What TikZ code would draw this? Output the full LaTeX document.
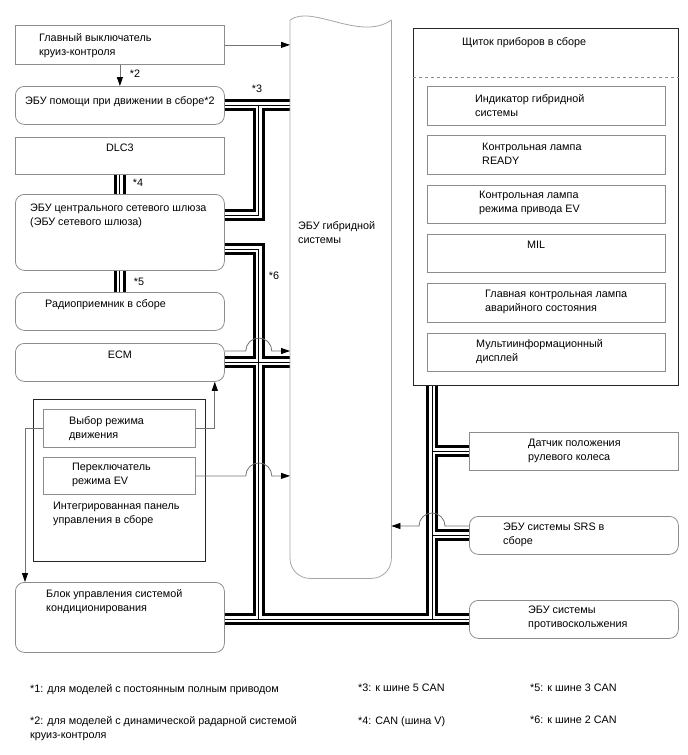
\documentclass[tikz,border=0pt]{standalone}
\usepackage{fontspec}
\setmainfont{Liberation Sans}
\usetikzlibrary{calc,arrows.meta,positioning}

\begin{document}
\begin{tikzpicture}[
    x=1pt, y=-1pt,
    font=\fontsize{10.8}{14}\selectfont,
    box/.style={draw=black!45, line width=0.8pt, anchor=north west, inner sep=0pt, minimum width=209pt, minimum height=#1},
    box/.default=38pt,
    rbox/.style={box=#1, rounded corners=9pt},
    rbox/.default=38pt,
    frame/.style={draw=black!85, line width=1.1pt, anchor=north west, inner sep=0pt},
    lamp/.style={draw=black!45, line width=0.8pt, inner sep=0pt, minimum width=238pt, minimum height=38.5pt},
    txt/.style={inner sep=0pt, anchor=north west, align=left},
    link/.style={draw=black!55, line width=0.8pt},
    >={Triangle[length=9pt, width=6pt, color=black]}
]
\useasboundingbox (0,0) rectangle (688,755);

\node[box=39pt] (cruise) at (15,25) {};
\node[rbox] (assist) at (15,86) {};
\node[box=37pt] (dlc) at (15,137) {};
\node[rbox=76pt] (gateway) at (15,194) {};
\node[rbox] (radio) at (15,292) {};
\node[rbox] (ecm) at (15,343) {};
\node[frame, minimum width=172pt, minimum height=162pt] (panel) at (33,399) {};
\node[box, minimum width=152pt] (drive) at (43,409) {};
\node[box=37pt, minimum width=152pt] (evsw) at (43,457) {};
\node[rbox=70pt] (ac) at (15,582) {};
\node[minimum width=101pt, minimum height=558pt, inner sep=0pt, anchor=north west] (hybrid) at (290,20) {};
\node[frame, minimum width=265pt, minimum height=357pt] (cluster) at (413,28) {};
\node[lamp, anchor=north west] (hyind) at (427,86) {};
\node[lamp, below=10pt of hyind] (ready) {};
\node[lamp, below=10pt of ready] (evlamp) {};
\node[lamp, below=10pt of evlamp] (mil) {};
\node[lamp, below=10pt of mil] (master) {};
\node[lamp, below=10pt of master] (mid) {};
\node[box] (steer) at (469,432) {};
\node[rbox] (srs) at (469,516) {};
\node[rbox] (abs) at (469,600) {};

\node[txt, below right=8pt and 24pt of cruise.north west] (cruise-t) {Главный выключатель\\круиз-контроля};
\node[txt, below right=10pt and 10pt of assist.north west] (assist-t) {ЭБУ помощи при движении в сборе*2};
\node[txt, below=7pt of dlc.north] (dlc-t) {DLC3};
\node[txt, below right=10pt and 15pt of gateway.north west] (gateway-t) {ЭБУ центрального сетевого шлюза\\(ЭБУ сетевого шлюза)};
\node[txt, below right=7pt and 30pt of radio.north west] (radio-t) {Радиоприемник в сборе};
\node[txt, below=8pt of ecm.north] (ecm-t) {ECM};
\node[txt, below right=7pt and 26pt of drive.north west] (drive-t) {Выбор режима\\движения};
\node[txt, below right=6pt and 29pt of evsw.north west] (evsw-t) {Переключатель\\режима EV};
\node[txt, below right=103pt and 20pt of panel.north west] (panel-t) {Интегрированная панель\\управления в сборе};
\node[txt, below right=7pt and 31pt of ac.north west] (ac-t) {Блок управления системой\\кондиционирования};
\node[txt, below right=201pt and 8pt of hybrid.north west] (hybrid-t) {ЭБУ гибридной\\системы};
\node[txt, below right=9pt and 49pt of cluster.north west] (cluster-t) {Щиток приборов в сборе};
\node[txt, below right=8pt and 48pt of hyind.north west] (hyind-t) {Индикатор гибридной\\системы};
\node[txt, below right=8pt and 55pt of ready.north west] (ready-t) {Контрольная лампа\\READY};
\node[txt, below right=6pt and 52pt of evlamp.north west] (evlamp-t) {Контрольная лампа\\режима привода EV};
\node[txt, below right=7pt and 100pt of mil.north west] (mil-t) {MIL};
\node[txt, below right=7pt and 58pt of master.north west] (master-t) {Главная контрольная лампа\\аварийного состояния};
\node[txt, below right=7pt and 49pt of mid.north west] (mid-t) {Мультиинформационный\\дисплей};
\node[txt, below right=7pt and 59pt of steer.north west] (steer-t) {Датчик положения\\рулевого колеса};
\node[txt, below right=7pt and 34pt of srs.north west] (srs-t) {ЭБУ системы SRS в\\сборе};
\node[txt, below right=6pt and 59pt of abs.north west] (abs-t) {ЭБУ системы\\противоскольжения};

\coordinate (t3) at ($(assist.east)+(34,0)$);
\coordinate (g3) at ($(gateway.north east)+(0,21)$);
\coordinate (g6) at ($(gateway.north east)+(0,55)$);
\coordinate (c0) at ($(cluster.south west)+(19,0)$);

\foreach \w/\c in {12pt/black, 6pt/white, 1pt/black}
  \draw[line width=\w, draw=\c] (assist.east) -- (assist.east -| hybrid.west)
    (g3) -| (t3)
    (dlc.south) -- (gateway.north)
    (gateway.south) -- (radio.north)
    (g6) -| (t3 |- abs.west)
    (ecm.east) -- (ecm.east -| hybrid.west)
    (ac.east |- abs.west) -- (abs.west)
    (c0) -- (c0 |- abs.west)
    (c0 |- steer.west) -- (steer.west)
    (c0 |- srs.west) -- (srs.west);

\draw[draw=black!35, line width=0.8pt, rounded corners=20pt] (hybrid.north west) -- (hybrid.south west) -- (hybrid.south east) -- (hybrid.north east);
\draw[draw=black!35, line width=0.8pt] (hybrid.north west) .. controls ($(hybrid.north west)+(22,-16)$) and ($(hybrid.north east)+(-31,22)$) .. (hybrid.north east);
\draw[draw=black!45, dashed] ($(cluster.north west)+(0,49)$) -- ($(cluster.north east)+(0,49)$);

\coordinate (ecm-o) at ($(ecm.north east)+(0,8)$);
\coordinate (ecm-i) at ($(ecm.south east)+(-10,0)$);
\coordinate (srs-o) at ($(srs.north west)+(0,10)$);
\coordinate (ac-i) at ($(ac.north west)+(10,0)$);
\draw[link, ->] (cruise.east) -- (cruise.east -| hybrid.west);
\draw[link, ->] (cruise.south) -- (assist.north);
\draw[link, ->] (ecm-o) -- ($(ecm-o -| t3)+(-13,0)$) arc[start angle=180, end angle=0, radius=13pt] -- (ecm-o -| hybrid.west);
\draw[link, ->] (evsw.east) -- ($(evsw.east -| t3)+(-13,0)$) arc[start angle=180, end angle=0, radius=13pt] -- (evsw.east -| hybrid.west);
\draw[link, ->] (srs-o) -- ($(srs-o -| c0)+(13,0)$) arc[start angle=0, end angle=180, radius=13pt] -- (srs-o -| hybrid.east);
\draw[link, ->] (drive.east) -| (ecm-i);
\draw[link, ->] (drive.west) -| (ac-i);

\node (s2) at (135,74) {*2};
\node (s3) at (257,89) {*3};
\node (s4) at (138,183) {*4};
\node (s5) at (139,282) {*5};
\node (s6) at (274,276) {*6};

\node[txt] (f1) at (30,684) {*1: для моделей с постоянным полным приводом};
\node[txt] (f3) at (358,684) {*3: к шине 5 CAN};
\node[txt] (f5) at (530,684) {*5: к шине 3 CAN};
\node[txt] (f2) at (30,716) {*2: для моделей с динамической радарной системой\\круиз-контроля};
\node[txt] (f4) at (358,716) {*4: CAN (шина V)};
\node[txt] (f6) at (530,716) {*6: к шине 2 CAN};
\end{tikzpicture}
\end{document}
